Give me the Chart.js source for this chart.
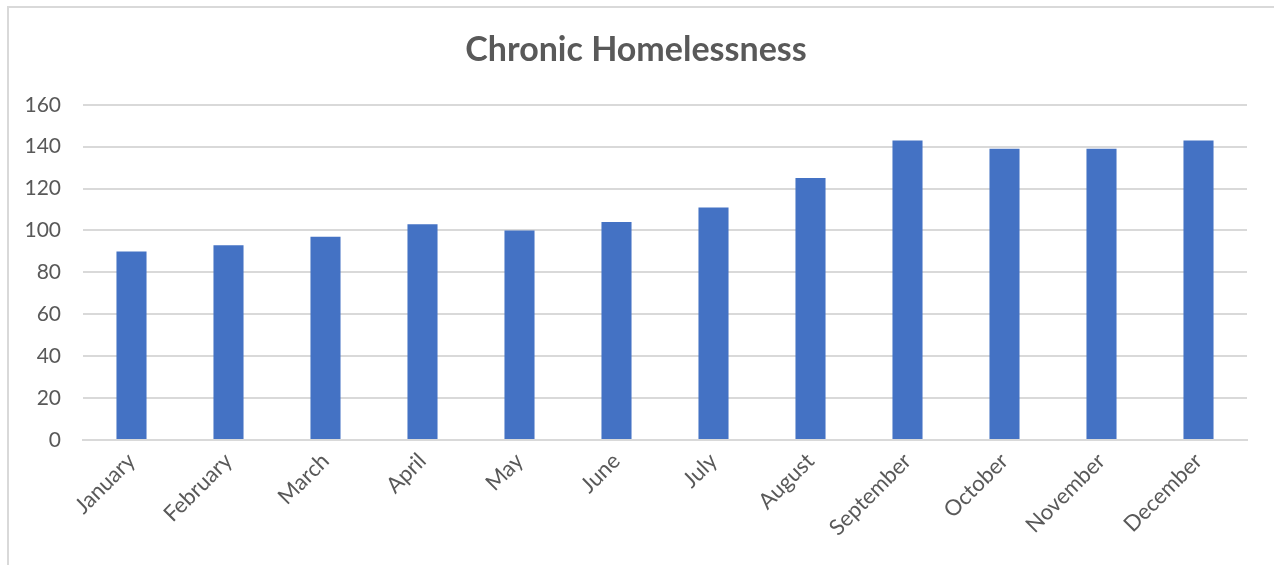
<!DOCTYPE html>
<html>
<head>
<meta charset="utf-8">
<title>Chronic Homelessness</title>
<script src="https://cdn.jsdelivr.net/npm/chart.js@4"></script>
<style>
  html, body { margin: 0; padding: 0; background: #fff; overflow: hidden; }
  #box {
    position: absolute;
    left: 7px;
    top: 6px;
    width: 1267px;
    height: 559px;
    border-left: 2px solid #d9d9d9;
    border-top: 2px solid #d9d9d9;
  }
</style>
</head>
<body>
<div id="box"><canvas id="myChart"></canvas></div>
<script>
var months = ['January', 'February', 'March', 'April', 'May', 'June',
              'July', 'August', 'September', 'October', 'November', 'December'];
var counts = [90, 93, 97, 103, 100, 104, 111, 125, 143, 139, 139, 143];
var yTicks = [0, 20, 40, 60, 80, 100, 120, 140, 160];

var fontFace = "Lato, 'Liberation Sans', sans-serif";
var grey = '#595959';

var ctx = document.getElementById('myChart').getContext('2d');
var chart = new Chart(ctx, {
    type: 'bar',
    data: {
        labels: months,
        datasets: [{
            label: 'Chronic Homelessness',
            backgroundColor: '#4472c4',
            borderWidth: 0,
            data: counts,
            barPercentage: 0.62,
            categoryPercentage: 0.5
        }]
    },
    options: {
        responsive: true,
        maintainAspectRatio: false,
        animation: false,
        layout: {
            autoPadding: false,
            padding: { left: 16, right: 29, top: 0, bottom: 18 }
        },
        plugins: {
            legend: { display: false },
            tooltip: { enabled: false },
            title: {
                display: true,
                text: 'Chronic Homelessness',
                color: grey,
                font: { family: fontFace, size: 34, weight: 'bold' },
                padding: { top: 22, bottom: 34 }
            }
        },
        scales: {
            x: {
                grid: { display: false, drawTicks: false },
                border: { display: true, color: '#d9d9d9', width: 2 },
                ticks: {
                    color: grey,
                    font: { family: fontFace, size: 22 },
                    maxRotation: 45,
                    minRotation: 45,
                    padding: 8
                }
            },
            y: {
                min: yTicks[0],
                max: yTicks[yTicks.length - 1],
                afterBuildTicks: function (axis) {
                    axis.ticks = yTicks.map(function (v) { return { value: v }; });
                },
                // fixed gutter for the value labels
                afterFit: function (scale) {
                    scale.width = 58;
                },
                grid: { color: '#d9d9d9', lineWidth: 2, drawTicks: false },
                border: { display: false },
                ticks: {
                    color: grey,
                    font: { family: fontFace, size: 21 },
                    padding: 22
                }
            }
        }
    }
});
</script>
</body>
</html>
